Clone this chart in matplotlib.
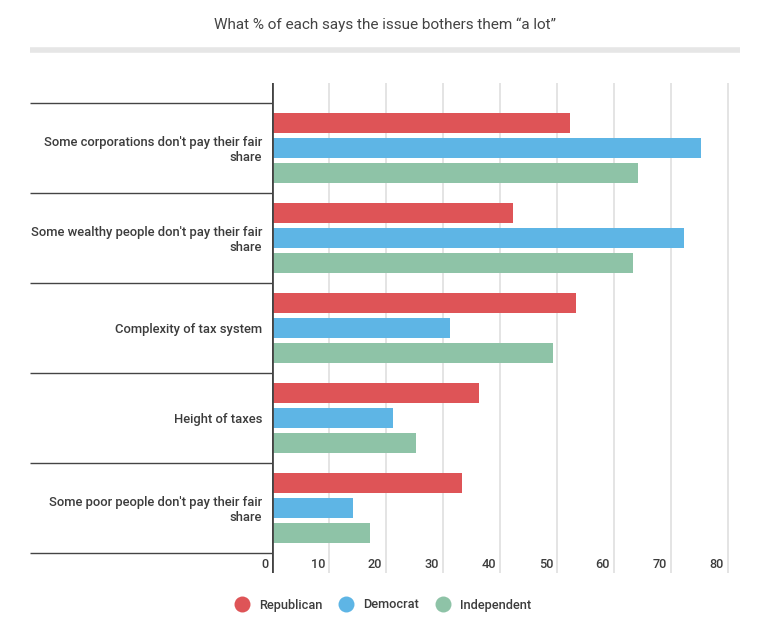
import matplotlib
matplotlib.use("Agg")
import matplotlib.pyplot as plt
import matplotlib.transforms as mtransforms
from matplotlib.lines import Line2D
import numpy as np

plt.rcParams['font.family'] = ['Roboto', 'DejaVu Sans']

# data
categories = ["Some corporations don't pay their fair\nshare",
              "Some wealthy people don't pay their fair\nshare",
              "Complexity of tax system",
              "Height of taxes",
              "Some poor people don't pay their fair\nshare"]
series = ["Republican", "Democrat", "Independent"]
republican = [52, 42, 53, 36, 33]
democrat = [75, 72, 31, 21, 14]
independent = [64, 63, 49, 25, 17]
xticks = [0, 10, 20, 30, 40, 50, 60, 70, 80]
title = "What % of each says the issue bothers them \u201ca lot\u201d"

colors = ["#de5457", "#5eb5e5", "#8ec3a7"]
W, H = 770, 637

fig = plt.figure(figsize=(W / 100, H / 100), dpi=100)
ax = fig.add_axes([272 / W, 1 - 573 / H, 468 / W, 490 / H])

n = len(categories)
centers = np.arange(n) + 0.5
offsets = [-25 / 90, 0, 25 / 90]
for vals, off, c in zip([republican, democrat, independent], offsets, colors):
    ax.barh(centers + off, vals, height=20 / 90, color=c, left=0.25, zorder=3)

ax.set_xlim(0, 468 / 5.7)
ax.set_ylim(n + 20 / 90, -20 / 90)

# grid
for t in xticks[1:]:
    ax.axvline(t, color="#dddddd", lw=1.1, zorder=1)
ax.axvline(0, color="#444444", lw=2, zorder=4)

for s in ax.spines.values():
    s.set_visible(False)
ax.set_xticks([])
ax.set_yticks([])

# separators left of axis
trans = mtransforms.blended_transform_factory(ax.transAxes, ax.transData)
for b in range(n + 1):
    ax.plot([(30 - 272) / 468, 0], [b, b], transform=trans, color="#444444",
            lw=1, clip_on=False, zorder=4, solid_capstyle="butt")

# category labels
lab_tr = trans + mtransforms.ScaledTranslation(-10 / 100, -2 / 100, fig.dpi_scale_trans)
for c, lab in zip(centers, categories):
    ax.text(0, c, lab, transform=lab_tr, ha="right", va="center", fontsize=9.4,
            fontweight="medium", color="#3c3c3c", linespacing=1.2)

# x tick labels
tick_tr = mtransforms.blended_transform_factory(ax.transData, ax.transAxes) + \
    mtransforms.ScaledTranslation(-4 / 100, -1 / 100, fig.dpi_scale_trans)
for t in xticks:
    ax.text(t, 9 / 490, str(t), transform=tick_tr, ha="right", va="center",
            fontsize=9.2, fontweight="medium", color="#3c3c3c")

# title and rule
fig.text(385 / W, 1 - 25 / H, title, ha="center", va="center", fontsize=11,
         color="#444444")
fig.add_artist(Line2D([30 / W, 740 / W], [1 - 49.5 / H, 1 - 49.5 / H],
                      transform=fig.transFigure, color="#e6e6e6", lw=4,
                      solid_capstyle="butt"))

handles = [Line2D([], [], marker="o", ls="", markersize=11.5, color=c,
                  markeredgewidth=0) for c in colors]
leg = fig.legend(handles, series, loc="center", ncol=3, frameon=False,
                 bbox_to_anchor=(380 / W, 1 - 605 / H), handletextpad=0.3,
                 columnspacing=0.9, prop={"size": 9.2, "weight": "medium"})
for t in leg.get_texts():
    t.set_color("#3c3c3c")

fig.savefig("out.png", dpi=100, facecolor="white")
